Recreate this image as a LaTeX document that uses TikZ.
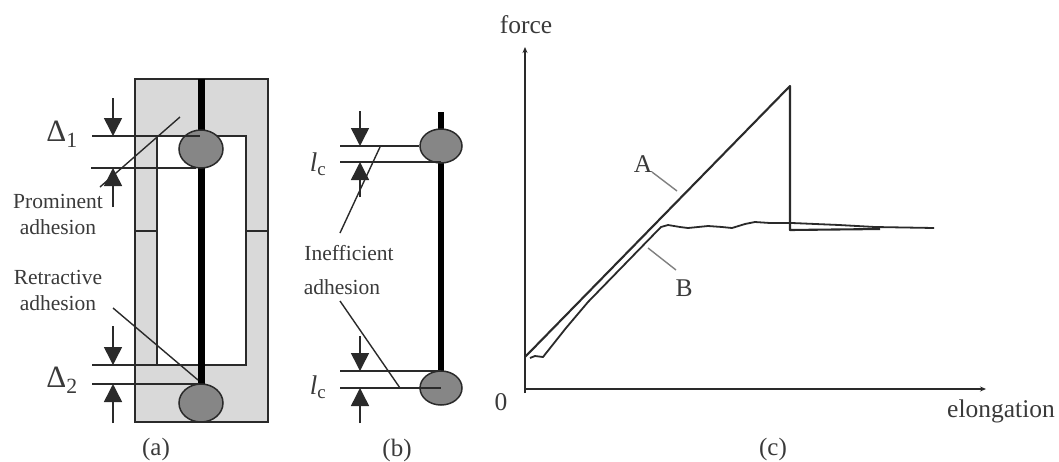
\documentclass[tikz,border=0pt]{standalone}
\usepackage{fontspec}
\setmainfont{Liberation Serif}
\usepackage{xcolor}
\usepackage{tikz}
\usetikzlibrary{positioning, arrows.meta, shapes.geometric}
\definecolor{inkc}{HTML}{2A2A2A}
\definecolor{txtc}{HTML}{3A3A3A}
\tikzset{
  lbl/.style={inner sep=0pt, align=center, text=txtc, font=\fontsize{21.5}{24}\selectfont},
  lblc/.style={lbl, font=\fontsize{25.5}{28}\selectfont},
  panel/.style={lbl, font=\fontsize{25}{28}\selectfont},
  sym/.style={lbl, font=\fontsize{31}{32}\selectfont},
  ball/.style={draw=inkc, line width=1.5pt, ellipse, fill=gray!95, inner sep=0pt},
  thin/.style={draw=inkc, line width=1.6pt},
  arr/.style={thin, line width=1.5pt, -{Triangle[length=18pt, width=18pt]}},
  fibre/.style={draw=black, line width=7pt},
  curve/.style={draw=inkc, line width=2.1pt, line join=round},
  leader/.style={draw=inkc, line width=1.4pt},
  leaderg/.style={draw=gray, line width=1.4pt},
  axis/.style={draw=inkc, line width=1.5pt, -{Stealth[length=6pt, width=5pt]}},
}
\begin{document}
\begin{tikzpicture}[x=1pt, y=-1pt, node distance=5pt]
\useasboundingbox[fill=white] (0,0) rectangle (1059,461);
% (a)
\node[thin, fill=gray!30, minimum width=133pt, minimum height=343pt, inner sep=0pt] (frame) at (201.5,250.5) {};
\node[thin, fill=white, minimum width=89pt, minimum height=229pt, inner sep=0pt] (slot) at (201.5,250.5) {};
\draw[thin] (frame.west |- 0,231) -- (slot.west |- 0,231);
\draw[thin] (slot.east |- 0,231) -- (frame.east |- 0,231);
\coordinate (fa) at (201,79);
\coordinate (fb) at (201,386);
\draw[fibre] (fa) -- (fb);
\node[ball, minimum width=44pt, minimum height=38pt] (b1) at (201,149) {};
\node[ball, minimum width=44pt, minimum height=38pt] (b2) at (201,403) {};
\coordinate (p1) at (92,136); \coordinate (p1e) at (200,136);
\coordinate (p2) at (91,168); \coordinate (p2e) at (196,168);
\coordinate (p3) at (92,365); \coordinate (p3e) at (157,365);
\coordinate (p4) at (92,384); \coordinate (p4e) at (199,384);
\draw[thin] (p1) -- (p1e);
\draw[thin] (p2) -- (p2e);
\draw[thin] (p3) -- (p3e);
\draw[thin] (p4) -- (p4e);
\coordinate (q1) at (113,98); \coordinate (q2) at (113,207);
\coordinate (q3) at (113,326); \coordinate (q4) at (113,423);
\draw[arr] (q1) -- (q1 |- p1);
\draw[arr] (q2) -- (q2 |- p2);
\draw[arr] (q3) -- (q3 |- p3);
\draw[arr] (q4) -- (q4 |- p4);
\node[sym] (d1) at (62,134) {Δ\textsubscript{1}};
\node[sym] (d2) at (62,380) {Δ\textsubscript{2}};
\node[lbl] (prom) at (58,214) {Prominent\\[2pt]adhesion};
\node[lbl] (retr) at (58,290) {Retractive\\[2pt]adhesion};
\coordinate (u1) at (180,117); \coordinate (u2) at (100,187);
\coordinate (u3) at (113,308); \coordinate (u4) at (198,380);
\draw[leader] (u1) -- (u2);
\draw[leader] (u3) -- (u4);
\node[panel] (capa) at (156,449) {(a)};
% (b)
\coordinate (ga) at (441,112);
\coordinate (gb) at (441,374);
\draw[fibre, line width=6pt] (ga) -- (gb);
\node[ball, minimum width=42pt, minimum height=34pt] (b3) at (441,146) {};
\node[ball, minimum width=42pt, minimum height=34pt] (b4) at (441,388) {};
\coordinate (r1) at (340,146);
\coordinate (r2) at (340,162); \coordinate (r2e) at (441,162);
\coordinate (r3) at (340,371); \coordinate (r3e) at (441,371);
\coordinate (r4) at (340,388);
\draw[thin] (r1) -- (b3.west);
\draw[thin] (r2) -- (r2e);
\draw[thin] (r3) -- (r3e);
\draw[thin] (r4) -- (b4.center);
\coordinate (s1) at (360,111); \coordinate (s2) at (360,197);
\coordinate (s3) at (360,336); \coordinate (s4) at (360,423);
\draw[arr] (s1) -- (s1 |- r1);
\draw[arr] (s2) -- (s2 |- r2);
\draw[arr] (s3) -- (s3 |- r3);
\draw[arr] (s4) -- (s4 |- r4);
\node[lbl, font=\fontsize{27}{30}\selectfont] (l1) at (318,164) {\textit{l}\textsubscript{c}};
\node[lbl, font=\fontsize{27}{30}\selectfont] (l2) at (318,387) {\textit{l}\textsubscript{c}};
\node[lbl] (ineff) at (349,253) {Inefficient};
\node[lbl] (adh) at (342,287) {adhesion};
\coordinate (v1) at (380,147); \coordinate (v2) at (340,233);
\coordinate (v3) at (340,301); \coordinate (v4) at (400,388);
\draw[leader] (v1) -- (v2);
\draw[leader] (v3) -- (v4);
\node[panel] (capb) at (397,450) {(b)};
% (c)
\coordinate (o) at (525,389);
\coordinate (ytop) at (525,47);
\coordinate (xend) at (986,389);
\draw[axis] (525,393) -- (ytop);
\draw[axis] (o) -- (xend);
\node[lblc] (fy) at (526,25) {force};
\node[lblc] (zero) at (501,402) {0};
\node[lblc] (fx) at (1001,411) {elongation};
\node[panel] (capc) at (773,449) {(c)};
\coordinate (a0) at (525,357);
\coordinate (a1) at (790,86);
\coordinate (a2) at (790,230);
\coordinate (a3) at (880,229);
\draw[curve] (a0) -- (a1) -- (a2) -- (a3);
\draw[curve, line width=1.8pt] (530,358) -- (535,356) -- (543,357) -- (566,328) -- (588,302) -- (661,227) -- (668,225) -- (680,227) -- (688,228) -- (708,226) -- (722,227) -- (732,228) -- (745,224) -- (755,222) -- (770,223) -- (792,223) -- (839,225) -- (875,227) -- (934,228);
\node[lblc] (la) at (643,164) {A};
\node[lblc] (lb) at (684,288) {B};
\coordinate (w1) at (652,172); \coordinate (w2) at (677,191);
\coordinate (w3) at (648,248); \coordinate (w4) at (676,270);
\draw[leaderg] (w1) -- (w2);
\draw[leaderg] (w3) -- (w4);
\end{tikzpicture}
\end{document}
